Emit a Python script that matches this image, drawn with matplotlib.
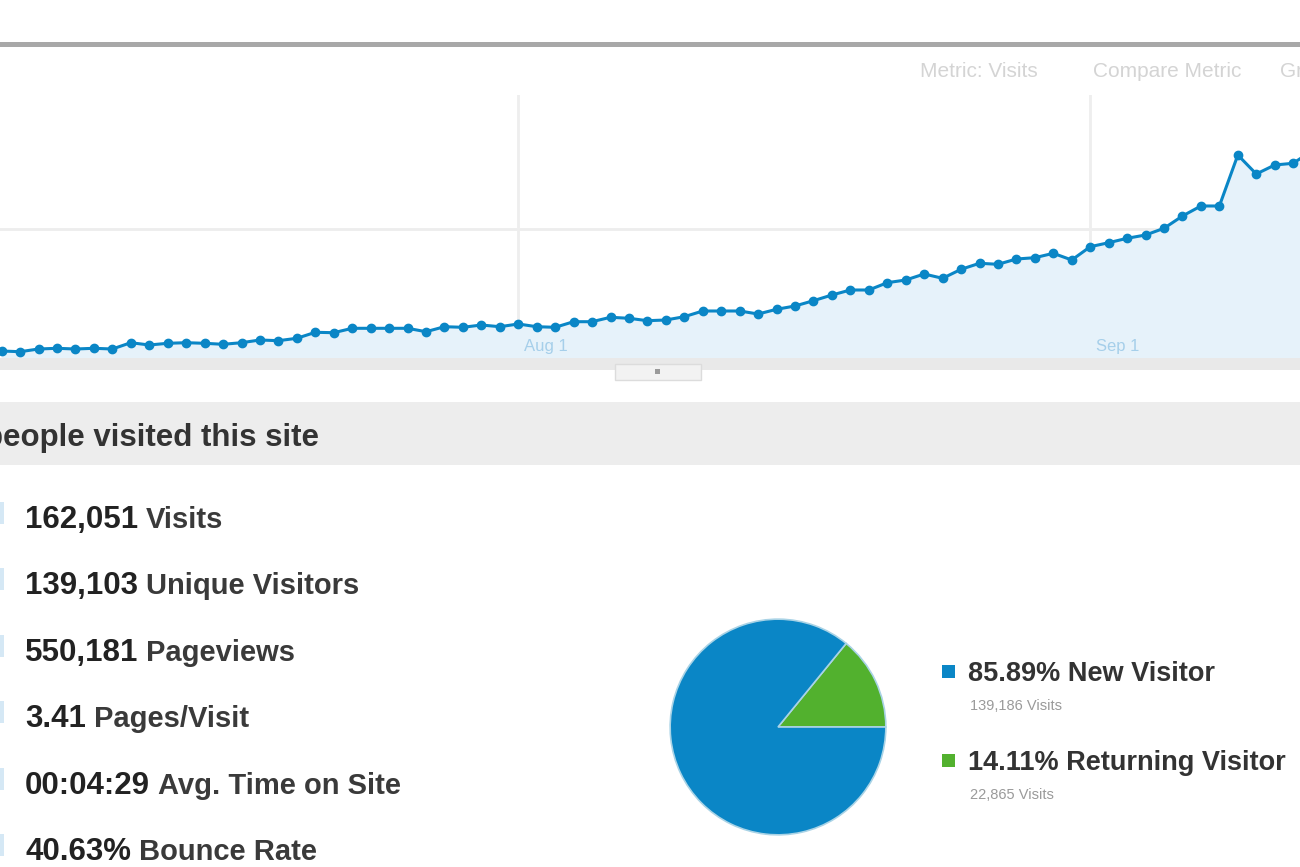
import matplotlib
matplotlib.use('Agg')
import matplotlib.pyplot as plt
from matplotlib.patches import Rectangle

plt.rcParams['font.family'] = ['Liberation Sans', 'DejaVu Sans']

# ── DATA ────────────────────────────────────────────────────────────
# daily visits, first point = Jul 4
visits = [271, 244, 349, 376, 349, 376, 349, 593, 504, 570, 593, 570, 531, 593,
          698, 671, 764, 996, 981, 1151, 1151, 1151, 1151, 1019, 1213, 1190, 1279,
          1213, 1318, 1213, 1190, 1407, 1407, 1578, 1539, 1446, 1473, 1601, 1822,
          1822, 1822, 1705, 1888, 2016, 2221, 2442, 2636, 2636, 2919, 3023, 3256,
          3089, 3438, 3671, 3632, 3837, 3888, 4058, 3798, 4314, 4469, 4640, 4768,
          5027, 5504, 5892, 5892, 7868, 7132, 7481, 7547, 8020]
tick_pos = [28, 59]
tick_labels = ['Aug 1', 'Sep 1']
y_grid = [5000]

stat_values = ['162,051', '139,103', '550,181', '3.41', '00:04:29', '40.63%']
stat_names = ['Visits', 'Unique Visitors', 'Pageviews', 'Pages/Visit',
              'Avg. Time on Site', 'Bounce Rate']

pie_shares = [14.11, 85.89]
pie_names = ['Returning Visitor', 'New Visitor']
pie_visits = ['22,865 Visits', '139,186 Visits']

W, H = 1300, 867
BLUE = '#0a86c6'
GREEN = '#52b12e'


def px_rect(x0, y0, x1, y1):
    return [x0 / W, 1 - y1 / H, (x1 - x0) / W, (y1 - y0) / H]


fig = plt.figure(figsize=(W / 100, H / 100), dpi=100)
fig.patch.set_facecolor('white')

# ── background layer (pixel coords) ─────────────────────────────────
bg = fig.add_axes([0, 0, 1, 1])
bg.set_xlim(0, W)
bg.set_ylim(H, 0)
bg.axis('off')

bg.add_patch(Rectangle((0, 42), W, 5, color='#a8a8a8', lw=0))
bg.add_patch(Rectangle((0, 358), W, 12, color='#e9e9e9', lw=0))
bg.add_patch(Rectangle((615, 364), 86, 16, facecolor='#f2f2f2', edgecolor='#dcdcdc', lw=1))
bg.add_patch(Rectangle((655, 369), 5, 5, color='#9a9a9a', lw=0))
bg.add_patch(Rectangle((0, 402), W, 63, color='#ededed', lw=0))

bg.text(920, 77, 'Metric: Visits', fontsize=15, color='#d4d4d4')
bg.text(1093, 77, 'Compare Metric', fontsize=15, color='#d4d4d4')
bg.text(1280, 77, 'Graph by', fontsize=15, color='#d4d4d4')

bg.text(-16, 446, 'people visited this site', fontsize=22.5, fontweight='bold',
        color='#333333')

# ── CHART ───────────────────────────────────────────────────────────
ax = fig.add_axes(px_rect(0, 95, W, 358))
x = list(range(len(visits)))
ax.fill_between(x, visits, 0, color='#e6f2fa', lw=0)
for g in y_grid:
    ax.axhline(g, color='#ededed', lw=2, zorder=0)
for t in tick_pos:
    ax.axvline(t, color='#eeeeee', lw=2, zorder=0)
ax.plot(x, visits, color=BLUE, lw=2.2, marker='o', ms=6, zorder=3)
for t, lab in zip(tick_pos, tick_labels):
    ax.text(t + 0.3, 270, lab, fontsize=12, color='#a6cfea', va='baseline')
ax.set_xlim(-0.09, 70.37)
ax.set_ylim(0, 10194)
ax.axis('off')

# ── STATS LIST ──────────────────────────────────────────────────────
renderer = fig.canvas.get_renderer()
for i, (v, n) in enumerate(zip(stat_values, stat_names)):
    yb = 528 + i * 66.4
    bg.add_patch(Rectangle((0, yb - 26), 4, 22, color='#d5e8f5', lw=0))
    t = bg.text(25, yb, v, fontsize=22.5, fontweight='bold', color='#222222', va='baseline')
    w = t.get_window_extent(renderer=renderer).width
    bg.text(25 + w + 8, yb, n, fontsize=21, fontweight='bold', color='#3a3a3a', va='baseline')

# ── PIE ─────────────────────────────────────────────────────────────
pax = fig.add_axes(px_rect(668, 617, 888, 837))
pax.pie(pie_shares, colors=[GREEN, BLUE], startangle=0, counterclock=True,
        wedgeprops=dict(edgecolor='#a9d3e6', linewidth=1.2))
pax.set_xlim(-1.02, 1.02)
pax.set_ylim(-1.02, 1.02)
pax.set_aspect('equal')

legend_y = [681, 770]
for yb, name, share, sub, col in zip(legend_y, pie_names[::-1], pie_shares[::-1],
                                     pie_visits[::-1], [BLUE, GREEN]):
    bg.add_patch(Rectangle((942, yb - 16), 13, 13, color=col, lw=0))
    bg.text(968, yb, f'{share:.2f}% {name}', fontsize=19.5, fontweight='bold',
            color='#333333', va='baseline')
    bg.text(970, yb + 29, sub, fontsize=10.5, color='#9a9a9a', va='baseline')

fig.savefig('out.png', dpi=100)
